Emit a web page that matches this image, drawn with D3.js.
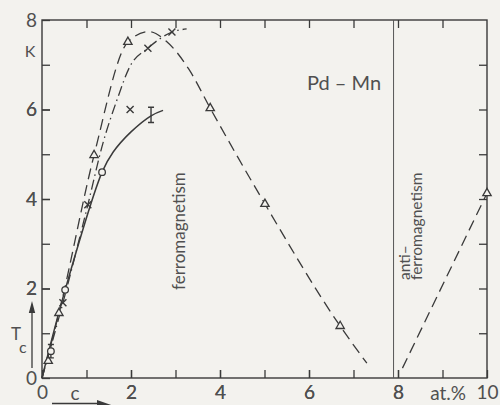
<!DOCTYPE html>
<html>
<head>
<meta charset="utf-8">
<script src="https://cdn.jsdelivr.net/npm/d3@7"></script>
<style>
  html, body { margin: 0; padding: 0; background: #f3f2ee; }
  svg { display: block; }
  text { font-family: Lato, "Open Sans", sans-serif; font-weight: 400; fill: #505050; }
</style>
</head>
<body>
<div id="chart"></div>
<script>
// Pd-Mn Curie temperature vs concentration

// curves: [c (at.%), Tc (K)]
const dashedCurve = [[0, 0], [0.38, 1.45], [1.17, 4.98], [1.93, 7.51], [2.4, 7.74], [2.8, 7.52],
                     [3.3, 6.9], [3.78, 6.03], [5.01, 3.89], [6.7, 1.16], [7.3, 0.33]];
const dashDotCurve = [[0, 0], [0.47, 1.68], [1.03, 3.87], [1.37, 5.25], [1.68, 6.2], [1.98, 6.97],
                      [2.38, 7.37], [2.92, 7.73], [3.25, 7.8]];
const solidCurve = [[0, 0], [0.52, 1.97], [1.35, 4.6], [1.6, 5.05], [2.0, 5.5], [2.45, 5.86], [2.72, 5.98]];
const antiCurve = [[8.1, 0.22], [10, 4.13]];

// markers
const triangles = [[0.14, 0.38], [0.38, 1.45], [1.17, 4.98], [1.93, 7.51], [3.78, 6.03],
                   [5.01, 3.89], [6.7, 1.16], [10, 4.13]];
const crosses = [[0.47, 1.68], [1.03, 3.87], [1.98, 6.0], [2.38, 7.37], [2.92, 7.73]];
const circles = [[0.2, 0.6], [0.52, 1.97], [1.35, 4.6]];
const errorBars = [[0.2, 0.6, 0.15], [2.45, 5.88, 0.17]];   // c, T, +-

const xLabels = [0, 2, 4, 6, 8, 10];
const yLabels = [0, 2, 4, 6, 8];
const minorX = [1, 2, 3, 4, 5, 6, 7, 8, 9];
const minorY = [1, 2, 3, 4, 5, 6, 7];
const phaseBoundary = 7.9;

const W = 500, H = 405;
const ink = "#3a3a3a";

const svg = d3.select("#chart").append("svg")
    .attr("width", W)
    .attr("height", H);

const x = d3.scaleLinear().domain([0, 10]).range([42, 487]);
const y = d3.scaleLinear().domain([0, 8]).range([378, 20]);

// frame
svg.append("rect")
    .attr("x", x(0)).attr("y", y(8))
    .attr("width", x(10) - x(0)).attr("height", y(0) - y(8))
    .attr("fill", "none").attr("stroke", ink).attr("stroke-width", 1.4);

// inward ticks
function styleAxis(g) {
    g.select(".domain").remove();
    g.selectAll("line").attr("stroke", ink).attr("stroke-width", 1.3);
    g.selectAll("text").style("font-size", "19px").attr("fill", "#505050");
}

svg.append("g")
    .attr("transform", `translate(0,${y(0)})`)
    .call(d3.axisBottom(x).tickValues(xLabels.concat(minorX)).tickSize(-8).tickPadding(8)
        .tickFormat(d => xLabels.includes(d) ? d : ""))
    .call(styleAxis);

svg.append("g")
    .attr("transform", `translate(${x(0)},0)`)
    .call(d3.axisLeft(y).tickValues(yLabels.concat(minorY)).tickSize(-8).tickPadding(5)
        .tickFormat(d => yLabels.includes(d) ? d : ""))
    .call(styleAxis);

svg.append("g")
    .attr("transform", `translate(0,${y(8)})`)
    .call(d3.axisTop(x).tickValues(minorX).tickSize(-8).tickFormat(""))
    .call(styleAxis);

svg.append("g")
    .attr("transform", `translate(${x(10)},0)`)
    .call(d3.axisRight(y).tickValues(minorY).tickSize(-8).tickFormat(""))
    .call(styleAxis);

// ferro / antiferro boundary
svg.append("line")
    .attr("x1", x(phaseBoundary)).attr("x2", x(phaseBoundary))
    .attr("y1", y(8)).attr("y2", y(0))
    .attr("stroke", "#555").attr("stroke-width", 1);

// curves
const line = d3.line().x(d => x(d[0])).y(d => y(d[1])).curve(d3.curveMonotoneX);
const smooth = d3.line().x(d => x(d[0])).y(d => y(d[1])).curve(d3.curveCatmullRom.alpha(0.5));

svg.append("path").datum(dashedCurve)
    .attr("d", line).attr("fill", "none").attr("stroke", ink)
    .attr("stroke-width", 1.3).attr("stroke-dasharray", "11,6");

svg.append("path").datum(dashDotCurve)
    .attr("d", line).attr("fill", "none").attr("stroke", ink)
    .attr("stroke-width", 1.3).attr("stroke-dasharray", "10,4,1.5,4");

svg.append("path").datum(solidCurve)
    .attr("d", smooth).attr("fill", "none").attr("stroke", ink)
    .attr("stroke-width", 1.5);

svg.append("path").datum(antiCurve)
    .attr("d", d3.line().x(d => x(d[0])).y(d => y(d[1])))
    .attr("fill", "none").attr("stroke", ink)
    .attr("stroke-width", 1.3).attr("stroke-dasharray", "11,6");

// markers
const tri = d3.symbol().type(d3.symbolTriangle).size(30);
svg.selectAll(".tri").data(triangles).enter().append("path")
    .attr("class", "tri")
    .attr("transform", d => `translate(${x(d[0])},${y(d[1])})`)
    .attr("d", tri)
    .attr("fill", "#f3f2ee").attr("stroke", ink).attr("stroke-width", 1.3);

svg.selectAll(".cross").data(crosses).enter().append("path")
    .attr("class", "cross")
    .attr("d", d => {
        const px = x(d[0]), py = y(d[1]), s = 3.5;
        return `M${px - s},${py - s}L${px + s},${py + s}M${px - s},${py + s}L${px + s},${py - s}`;
    })
    .attr("stroke", ink).attr("stroke-width", 1.4);

svg.selectAll(".err").data(errorBars).enter().append("path")
    .attr("class", "err")
    .attr("d", d => {
        const px = x(d[0]), y1 = y(d[1] + d[2]), y2 = y(d[1] - d[2]), s = 3;
        return `M${px},${y1}V${y2}M${px - s},${y1}H${px + s}M${px - s},${y2}H${px + s}`;
    })
    .attr("stroke", ink).attr("stroke-width", 1.4).attr("fill", "none");

svg.selectAll(".circ").data(circles).enter().append("circle")
    .attr("class", "circ")
    .attr("cx", d => x(d[0])).attr("cy", d => y(d[1])).attr("r", 3.3)
    .attr("fill", "#f3f2ee").attr("stroke", ink).attr("stroke-width", 1.3);

// labels
svg.append("text").attr("x", 30).attr("y", 57)
    .attr("text-anchor", "middle").style("font-size", "16px").text("K");

svg.append("text").attr("x", 11).attr("y", 340)
    .style("font-size", "17px").text("T");
svg.append("text").attr("x", 19).attr("y", 353)
    .style("font-size", "16px").text("c");

// Tc arrow
svg.append("line").attr("x1", 32).attr("x2", 32).attr("y1", 368).attr("y2", 310)
    .attr("stroke", ink).attr("stroke-width", 1.3);
svg.append("path").attr("d", "M32,301L28.8,313L35.2,313Z").attr("fill", ink);

// c label and arrow
svg.append("text").attr("x", 75).attr("y", 400)
    .attr("text-anchor", "middle").style("font-size", "19px").text("c");
svg.append("line").attr("x1", 52).attr("x2", 100).attr("y1", 403.5).attr("y2", 403.5)
    .attr("stroke", ink).attr("stroke-width", 1.3);
svg.append("path").attr("d", "M97,400L114,406L97,406Z").attr("fill", ink);

svg.append("text").attr("x", 466).attr("y", 400)
    .attr("text-anchor", "end").style("font-size", "19px").text("at.%");

svg.append("text").attr("x", 307).attr("y", 90)
    .style("font-size", "20px").text("Pd – Mn");

svg.append("text")
    .attr("transform", `translate(185,290) rotate(-90)`)
    .style("font-size", "17px").text("ferromagnetism");

svg.append("text")
    .attr("transform", `translate(410,280) rotate(-90)`)
    .style("font-size", "15.5px").text("anti–");
svg.append("text")
    .attr("transform", `translate(422,280) rotate(-90)`)
    .style("font-size", "15.5px").text("ferromagnetism");
</script>
</body>
</html>
